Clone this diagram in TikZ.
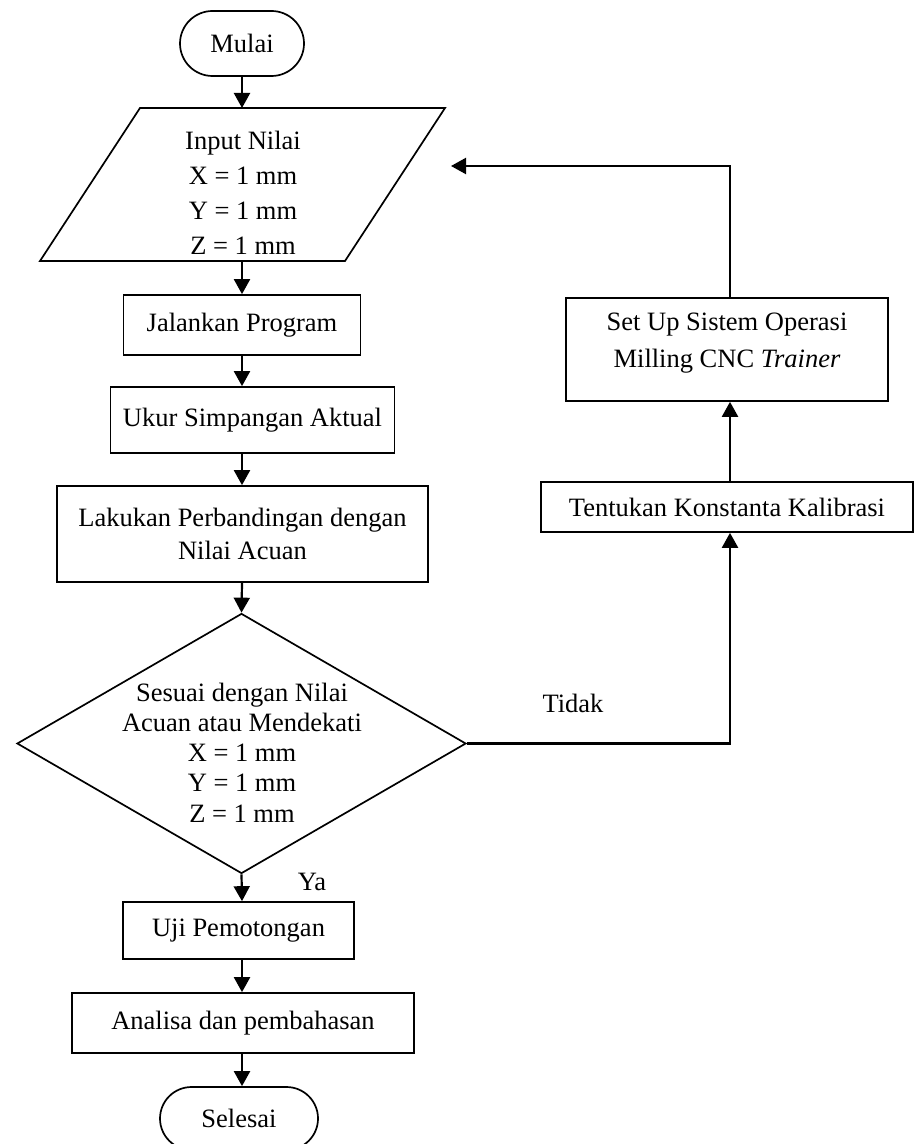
\documentclass[tikz,border=0pt]{standalone}
\usepackage{fontspec}
\setmainfont{Liberation Serif}
\usetikzlibrary{shapes.geometric,arrows.meta}
\begin{document}
\begin{tikzpicture}[x=0.5pt,y=-0.5pt,
  every node/.style={font=\fontsize{13.25}{17.5}\selectfont},
  box/.style={draw,line width=0.85pt,inner sep=0pt,align=center},
  arr/.style={line width=1.1pt,-{Triangle[length=7.5pt,width=8pt]}},
  lbl/.style={inner sep=0pt,align=center}]
\useasboundingbox (0,0) rectangle (914,1144);
% helper coordinates
\coordinate (sp) at (242,0);
\coordinate (lp) at (730,0);
\coordinate (inArr) at (451,166);
% start
\node[box,minimum width=62pt,minimum height=32.5pt,rounded corners=16.25pt] (mulai) at (242,43.5) {Mulai};
% input parallelogram
\coordinate (p1) at (140,108);
\coordinate (p2) at (445,108);
\coordinate (p3) at (345,261);
\coordinate (p4) at (40,261);
\draw[line width=0.85pt] (p1)--(p2)--(p3)--(p4)--cycle;
\coordinate (inTop) at (242,108);
\coordinate (inBot) at (242,261);
\node[lbl] (input) at (243,193) {Input Nilai\\X = 1 mm\\Y = 1 mm\\Z = 1 mm};
% process boxes
\node[box,minimum width=118.5pt,minimum height=30pt] (jalan) at (242,325) {Jalankan Program};
\node[box,minimum width=142pt,minimum height=33pt] (ukur) at (252.5,420) {Ukur Simpangan Aktual};
\node[box,minimum width=185.5pt,minimum height=48pt,font=\fontsize{13.25}{16.5}\selectfont] (lakukan) at (242.5,534) {Lakukan Perbandingan dengan\\Nilai Acuan};
% decision
\node[draw,diamond,line width=0.85pt,inner sep=0pt,minimum width=224.5pt,minimum height=130pt] (dec) at (241.5,743.5) {};
\node[lbl,font=\fontsize{13.25}{15.1}\selectfont] (dectext) at (242,752.5) {Sesuai dengan Nilai\\Acuan atau Mendekati\\X = 1 mm\\Y = 1 mm\\Z = 1 mm};
\node[box,minimum width=115.5pt,minimum height=28.5pt] (uji) at (238.5,930.5) {Uji Pemotongan};
\node[box,minimum width=171pt,minimum height=30pt] (analisa) at (243,1023) {Analisa dan pembahasan};
\node[box,minimum width=79pt,minimum height=31.5pt,rounded corners=15.75pt] (selesai) at (239,1118.5) {Selesai};
% right branch
\node[box,minimum width=161pt,minimum height=51.5pt] (setup) at (727,349.5) {};
\node[lbl,font=\fontsize{13.25}{18.5}\selectfont] (setuptext) at (727,343.5) {Set Up Sistem Operasi\\Milling CNC \textit{Trainer}};
\node[box,minimum width=186pt,minimum height=25pt] (tentukan) at (727,507) {Tentukan Konstanta Kalibrasi};
% labels
\node[lbl] (ya) at (312,882) {Ya};
\node[lbl] (tidak) at (573,703) {Tidak};
% connectors
\draw[arr] (mulai.south) -- (inTop);
\draw[arr] (inBot) -- (jalan.north -| sp);
\draw[arr] (jalan.south -| sp) -- (ukur.north -| sp);
\draw[arr] (ukur.south -| sp) -- (lakukan.north -| sp);
\draw[arr] (lakukan.south -| sp) -- (dec.north);
\draw[arr] (dec.south) -- (uji.north -| sp);
\draw[arr] (uji.south -| sp) -- (analisa.north -| sp);
\draw[arr] (analisa.south -| sp) -- (selesai.north -| sp);
\draw[arr] (dec.east) -| (lp |- tentukan.south);
\draw[arr] (tentukan.north -| lp) -- (setup.south -| lp);
\draw[arr] (setup.north -| lp) |- (inArr);
\end{tikzpicture}
\end{document}
